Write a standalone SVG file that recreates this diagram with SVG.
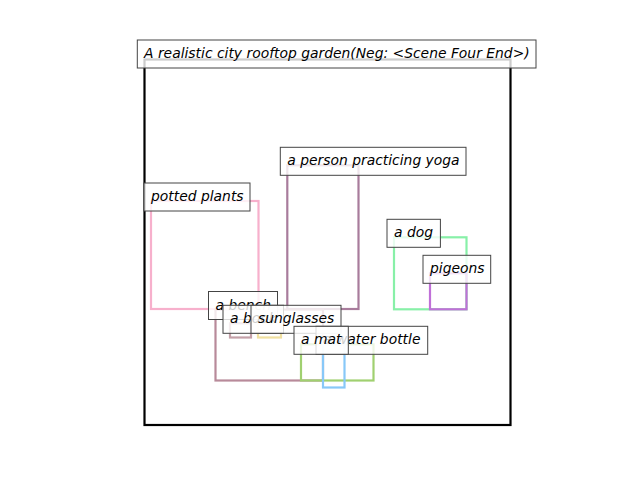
<svg xmlns="http://www.w3.org/2000/svg" width="640" height="480" viewBox="0 0 640 480">
<style>
.box{fill:none;stroke-width:2.2}
.lb{fill:#fff;fill-opacity:0.8;stroke:#444;stroke-width:1}
.t{font-family:"DejaVu Sans",sans-serif;font-style:italic;font-size:13.89px;fill:#000}
</style>
<rect width="640" height="480" fill="#fff"/>
<g id="frame"><rect x="144.5" y="59.5" width="366" height="365.5" fill="none" stroke="#000" stroke-width="2.2"/></g>
<g id="regions">
<rect id="r-potted" class="box" x="151" y="201" width="107.5" height="108" stroke="#f7b0cc"/>
<rect id="r-person" class="box" x="287.3" y="165.3" width="71.2" height="143.7" stroke="#a87c9c"/>
<rect id="r-dog" class="box" x="394" y="237.3" width="72.5" height="72" stroke="#88f0a8"/>
<rect id="r-pigeons" class="box" x="430" y="273.3" width="36.5" height="36" stroke="#c070d8"/>
<rect id="r-bench" class="box" x="215.5" y="309.5" width="107.5" height="71" stroke="#b88a9a"/>
<rect id="r-book" class="box" x="230" y="323.3" width="21" height="14.2" stroke="#c4a0a8"/>
<rect id="r-sunglasses" class="box" x="258" y="323.3" width="23" height="14.2" stroke="#f0e0a0"/>
<rect id="r-mat" class="box" x="301" y="344.3" width="72.5" height="36.2" stroke="#a0d070"/>
<rect id="r-water" class="box" x="323" y="344.3" width="21.5" height="43.2" stroke="#88c8f8"/>
</g>
<g id="title"><rect class="lb" x="137.3" y="40" width="398.7" height="28"/><text class="t" x="144" y="58">A realistic city rooftop garden(Neg: &lt;Scene Four End&gt;)</text></g>
<g id="potted-plants"><rect class="lb" x="144" y="183" width="106" height="28"/><text class="t" x="151" y="201">potted plants</text></g>
<g id="person"><rect class="lb" x="280.3" y="147.3" width="185.7" height="28"/><text class="t" x="287.3" y="165.3">a person practicing yoga</text></g>
<g id="dog"><rect class="lb" x="387" y="219.3" width="53.4" height="28"/><text class="t" x="394" y="237.3">a dog</text></g>
<g id="pigeons"><rect class="lb" x="423" y="255.3" width="67.7" height="28"/><text class="t" x="430" y="273.3">pigeons</text></g>
<g id="bench"><rect class="lb" x="208.5" y="291.5" width="69" height="28"/><text class="t" x="215.5" y="309.5">a bench</text></g>
<g id="book"><rect class="lb" x="223" y="305.3" width="60.5" height="28"/><text class="t" x="230" y="323.3">a book</text></g>
<g id="sunglasses"><rect class="lb" x="251" y="305.3" width="90" height="28"/><text class="t" x="258" y="323.3">sunglasses</text></g>
<g id="water-bottle"><rect class="lb" x="316" y="326.3" width="111.7" height="28"/><text class="t" x="323" y="344.3">a water bottle</text></g>
<g id="mat"><rect class="lb" x="294" y="326.3" width="54.3" height="28"/><text class="t" x="301" y="344.3">a mat</text></g>
</svg>
